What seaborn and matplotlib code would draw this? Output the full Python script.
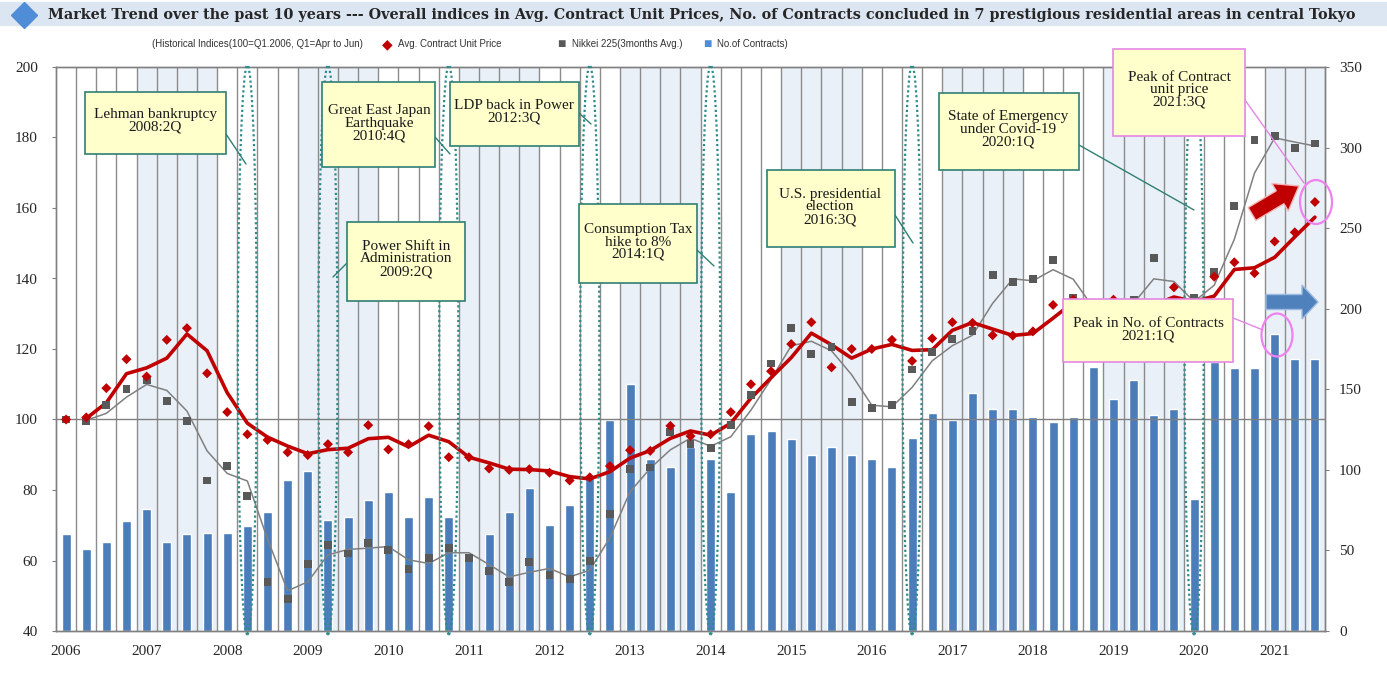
import pandas as pd
import matplotlib
matplotlib.use("Agg")
import matplotlib.pyplot as plt
import seaborn as sns
from matplotlib.patches import Rectangle, Ellipse, FancyArrow
from matplotlib.lines import Line2D
from matplotlib.transforms import IdentityTransform

# quarters 2006Q1 .. 2021Q3 (Q1 = Apr-Jun)
year_labels = [str(y) for y in range(2006, 2022)]

contracts = [60, 51, 55, 68, 76, 55, 60, 61, 61, 65,
             74, 94, 99, 69, 71, 81, 86, 71, 83, 71,
             47, 60, 74, 89, 66, 78, 95, 131, 153, 107,
             102, 114, 107, 86, 122, 124, 119, 109, 114, 109,
             107, 102, 120, 135, 131, 148, 138, 138, 133, 130,
             133, 164, 144, 156, 134, 138, 82, 167, 163, 163,
             184, 169, 169]

unit_price = [100, 100.6, 108.9, 117.1, 112.2, 122.6, 125.9, 113.1, 102.1, 95.8,
              94.2, 90.7, 89.9, 93.0, 90.7, 98.4, 91.5, 93.0, 98.1, 89.3,
              89.3, 86.1, 85.7, 85.9, 84.9, 82.7, 83.6, 86.8, 91.3, 91.1,
              98.2, 95.3, 95.8, 102.1, 110.0, 113.7, 121.4, 127.6, 114.8, 120.0,
              120.0, 122.6, 116.6, 123.0, 127.6, 127.4, 123.9, 123.8, 125.0, 132.5,
              134.0, 131.0, 134.0, 133.0, 132.0, 137.5, 129.5, 140.5, 144.6, 141.5,
              150.5, 153.1, 161.7]

nikkei = [100, 99.5, 104.0, 108.7, 111.2, 105.3, 99.5, 82.7, 86.7, 78.4,
          53.8, 49.0, 58.9, 64.3, 62.0, 65.0, 62.9, 57.5, 60.8, 63.6,
          60.8, 56.9, 53.8, 59.5, 56.0, 54.7, 59.8, 73.1, 85.9, 86.4,
          96.4, 93.0, 91.8, 98.4, 106.9, 115.9, 125.9, 118.5, 120.5, 104.9,
          103.2, 104.0, 114.2, 119.1, 122.8, 125.0, 140.9, 138.9, 139.8, 145.2,
          134.4, 129.0, 132.0, 134.0, 145.8, 132.5, 134.4, 141.8, 160.5, 179.3,
          180.5, 176.9, 178.3]

event_quarters = [9, 13, 19, 26, 32, 42, 56]

df = pd.DataFrame({"q": range(len(contracts)), "contracts": contracts,
                   "price": unit_price, "nikkei": nikkei})
df["price_ma"] = df["price"].rolling(2).mean()
df["nikkei_ma"] = df["nikkei"].rolling(2).mean()

sns.set_style("white")
plt.rcParams["font.family"] = ["Liberation Serif", "DejaVu Serif"]

W, H = 1387, 680
fig = plt.figure(figsize=(W / 100, H / 100), dpi=100)
PX = IdentityTransform()


def fy(y):
    return H - y


ax = fig.add_axes([56 / W, 1 - 631 / H, (1325 - 56) / W, (631 - 67) / H])
ax2 = ax.twinx()
ax.set_zorder(2)
ax2.set_zorder(1)
ax.patch.set_visible(False)

n = len(contracts)
# alternating year shading and quarter grid
for k in range(1, 16, 2):
    ax2.axvspan(4 * k - 0.5, 4 * k + 3.5, color="#EAF0F8", zorder=0, lw=0)
for b in range(1, n):
    ax2.axvline(b - 0.5, color="#8C8C8C", lw=1, zorder=0.5)

sns.barplot(data=df, x="q", y="contracts", ax=ax2, color="#4A7DBA",
            saturation=1, width=0.45, zorder=2)
ax2.set_ylim(0, 350)
ax2.set_yticks(range(0, 351, 50))
ax2.set_ylabel("")
ax2.tick_params(axis="y", direction="out", length=3, pad=7, labelsize=11,
                color="#808080")

ax.axhline(100, color="#808080", lw=1, zorder=1)
sns.lineplot(data=df, x="q", y="nikkei_ma", ax=ax, color="#808080", lw=1.1, zorder=3)
sns.lineplot(data=df, x="q", y="price_ma", ax=ax, color="#C00000", lw=2.6, zorder=4)
sns.scatterplot(data=df, x="q", y="nikkei", ax=ax, marker="s", color="#595959",
                s=32, edgecolor="none", zorder=5)
sns.scatterplot(data=df, x="q", y="price", ax=ax, marker="D", color="#C00000",
                s=26, edgecolor="none", zorder=6)

for q in event_quarters:
    ax.add_patch(Ellipse((q, 119.8), 0.95, 161.5, fill=False, ls=(0, (1, 1.2)),
                         ec="#2E8B8B", lw=1.6, clip_on=False, zorder=7))

ax.set_xlim(-0.5, n - 0.5)
ax.set_ylim(40, 200)
ax.set_yticks(range(40, 201, 20))
ax.set_xticks(range(0, n, 4))
ax.set_xticklabels(year_labels)
ax.set_xlabel("")
ax.set_ylabel("")
ax.tick_params(axis="y", direction="out", length=3, pad=10, labelsize=11,
               color="#808080")
ax.tick_params(axis="x", length=0, pad=10, labelsize=11)
for a in (ax, ax2):
    for s in a.spines.values():
        s.set_color("#808080")
        s.set_linewidth(1)

# title band
fig.add_artist(Rectangle((0, fy(25)), W, 23, transform=PX, color="#DCE6F2", zorder=0))
fig.add_artist(Line2D([24], [fy(15)], marker="D", markersize=13, color="#4F8ED6",
                      transform=PX, lw=0))
fig.text(48, fy(15), "Market Trend over the past 10 years --- Overall indices in Avg. "
         "Contract Unit Prices, No. of Contracts concluded in 7 prestigious residential "
         "areas in central Tokyo", transform=PX, va="center", ha="left",
         family="DejaVu Serif", weight="bold", fontsize=10.4)

# legend line
SANS = ["Liberation Sans", "DejaVu Sans"]
leg = [(152, "(Historical Indices(100=Q1.2006, Q1=Apr to Jun)", "#333333", 7),
       (382, "\u25c6", "#C00000", 10), (398, "Avg. Contract Unit Price", "#333333", 7),
       (557, "\u25a0", "#595959", 10), (572, "Nikkei 225(3months Avg.)", "#333333", 7),
       (703, "\u25a0", "#4F8ED6", 10), (717, "No.of Contracts)", "#333333", 7)]
for x, t, c, fs in leg:
    fig.text(x, fy(44), t, transform=PX, va="center", ha="left", family=SANS,
             fontsize=fs, color=c)

# annotation boxes
TEAL = "#2F7F72"
MAG = "#E586E5"
boxes = [
    (85, 92, 226, 154, "Lehman bankruptcy\n2008:2Q", 155, 121, TEAL, (226, 134, 246, 164)),
    (322, 82, 435, 167, "Great East Japan\nEarthquake\n2010:4Q", 379, 123, TEAL, (435, 137, 450, 154)),
    (347, 222, 465, 301, "Power Shift in\nAdministration\n2009:2Q", 406, 259, TEAL, (347, 263, 333, 277)),
    (450, 82, 579, 146, "LDP back in Power\n2012:3Q", 514, 112, TEAL, (579, 113, 591, 124)),
    (579, 204, 697, 283, "Consumption Tax\nhike to 8%\n2014:1Q", 638, 242, TEAL, (697, 250, 714, 266)),
    (767, 170, 895, 247, "U.S. presidential\nelection\n2016:3Q", 830, 207, TEAL, (895, 215, 913, 243)),
    (939, 93, 1079, 170, "State of Emergency\nunder Covid-19\n2020:1Q", 1008, 129, TEAL, (1079, 145, 1194, 210)),
    (1113, 49, 1245, 136, "Peak of Contract\nunit price\n2021:3Q", 1179, 90, MAG, (1245, 100, 1304, 183)),
    (1063, 299, 1233, 362, "Peak in No. of Contracts\n2021:1Q", 1148, 330, MAG, (1233, 318, 1263, 330)),
]
for x0, y0, x1, y1, txt, tx, ty, ec, ld in boxes:
    fig.add_artist(Line2D([ld[0], ld[2]], [fy(ld[1]), fy(ld[3])], transform=PX,
                          color=ec, lw=1, zorder=8))
    fig.add_artist(Rectangle((x0, fy(y1)), x1 - x0, y1 - y0, transform=PX,
                             facecolor="#FFFFCC", edgecolor=ec, lw=1.2, zorder=9))
    fig.text(tx, fy(ty), txt, transform=PX, ha="center", va="center",
             fontsize=11, linespacing=0.95, color="#1A1A1A", zorder=10)

# highlight circles and arrows
for cx, cy, w, h in [(1316, 202, 32, 44), (1277, 335, 31, 43)]:
    fig.add_artist(Ellipse((cx, fy(cy)), w, h, transform=PX, fill=False,
                           ec="#EE82EE", lw=1.6, zorder=8))
fig.add_artist(FancyArrow(1252, fy(214), 47, 28, width=15, head_width=32,
                          head_length=22, length_includes_head=True, transform=PX,
                          facecolor="#C00000", edgecolor="#F4B6B6", lw=1, zorder=8))
fig.add_artist(FancyArrow(1266, fy(302), 52, 0, width=15, head_width=34,
                          head_length=16, length_includes_head=True, transform=PX,
                          facecolor="#4F81BD", edgecolor="#9DBBE0", lw=1, zorder=8))

fig.savefig("out.png", dpi=100)
